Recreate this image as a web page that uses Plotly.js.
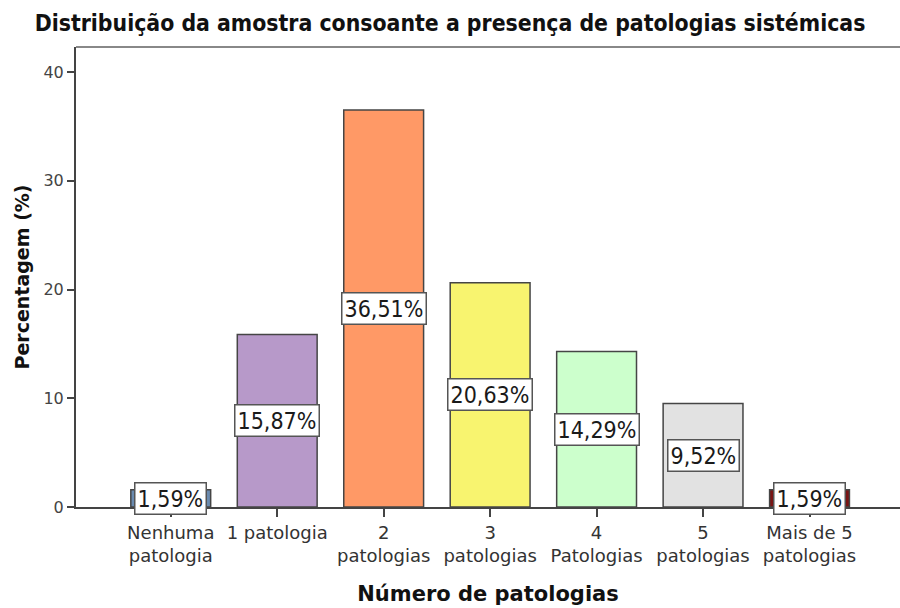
<!DOCTYPE html>
<html>
<head>
<meta charset="utf-8">
<script src="https://cdn.plot.ly/plotly-3.0.1.min.js"></script>
<style>html,body{margin:0;padding:0;background:#fff;}#chart{width:900px;height:608px;}</style>
</head>
<body>
<div id="chart"></div>
<script>
const categories = ["Nenhuma<br>patologia", "1 patologia", "2<br>patologias", "3<br>patologias", "4<br>Patologias", "5<br>patologias", "Mais de 5<br>patologias"];
const percentages = [1.59, 15.87, 36.51, 20.63, 14.29, 9.52, 1.59];
const labels = ["1,59%", "15,87%", "36,51%", "20,63%", "14,29%", "9,52%", "1,59%"];
const barColors = ["#6a8bb0", "#b799c9", "#ff9966", "#f8f46f", "#ccffcc", "#e2e2e2", "#7a1414"];

const trace = {
  type: "bar",
  x: categories,
  y: percentages,
  width: 0.75,
  marker: {color: barColors, line: {color: "#454545", width: 1.5}},
  hoverinfo: "none"
};

const annotations = categories.map((c, i) => ({
  x: c, y: percentages[i] / 2, xref: "x", yref: "y",
  text: labels[i], showarrow: false,
  font: {family: "DejaVu Sans Condensed", size: 23, color: "#1a1a1a"},
  bgcolor: "#ffffff", bordercolor: "#555555", borderwidth: 1.5, borderpad: 2
}));

const layout = {
  width: 900, height: 608,
  margin: {l: 76, r: 0, t: 47, b: 101},
  paper_bgcolor: "#ffffff", plot_bgcolor: "#ffffff",
  showlegend: false,
  title: {text: "Distribuição da amostra consoante a presença de patologias sistémicas",
    font: {family: "DejaVu Sans Condensed", size: 22.8, color: "#111", weight: "bold"},
    x: 0.5, xanchor: "center", y: 0.962, yanchor: "middle"},
  xaxis: {
    type: "category", range: [-0.89, 6.85],
    showline: true, linecolor: "#444", linewidth: 2,
    ticks: "outside", ticklen: 8, tickwidth: 2, tickcolor: "#444",
    tickfont: {family: "DejaVu Sans", size: 18, color: "#333"},
    showgrid: false, zeroline: false, automargin: false,
    title: {text: "Número de patologias", font: {family: "DejaVu Sans", size: 21, color: "#111", weight: "bold"}, standoff: 21}
  },
  yaxis: {
    range: [0, 42.3], tickvals: [0, 10, 20, 30, 40],
    showline: true, linecolor: "#444", linewidth: 2,
    ticks: "outside", ticklen: 7, tickwidth: 2, tickcolor: "#444",
    tickfont: {family: "DejaVu Sans", size: 16, color: "#444"},
    showgrid: false, zeroline: false, automargin: false,
    title: {text: "Percentagem (%)", font: {family: "DejaVu Sans", size: 19, color: "#111", weight: "bold"}, standoff: 9}
  },
  annotations: annotations,
  shapes: [{type: "line", xref: "paper", yref: "paper", x0: 0, x1: 1, y0: 1, y1: 1,
    line: {color: "#888", width: 2}}]
};

Plotly.newPlot("chart", [trace], layout, {displayModeBar: false, staticPlot: true});
</script>
</body>
</html>
